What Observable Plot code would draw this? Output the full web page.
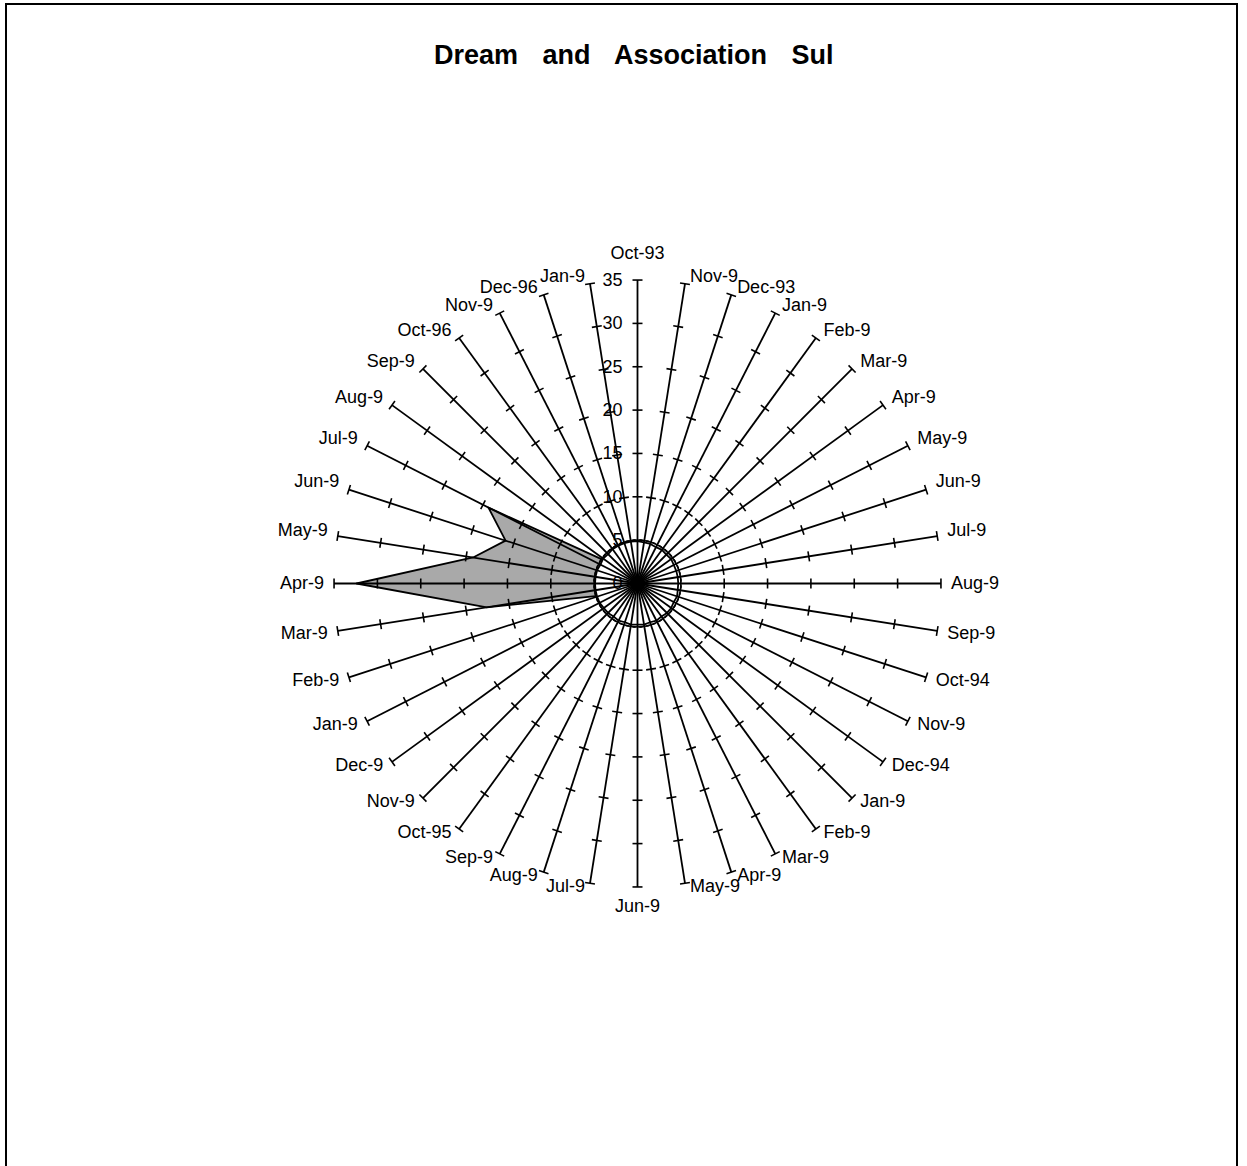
<!DOCTYPE html>
<html>
<head>
<meta charset="utf-8">
<script src="https://cdn.jsdelivr.net/npm/d3@7"></script>
<script src="https://cdn.jsdelivr.net/npm/@observablehq/plot@0.6"></script>
<style>
  html, body { margin: 0; padding: 0; background: #fff; overflow: hidden; }
  #wrap { position: relative; width: 1247px; height: 1166px; }
  #frame { position: absolute; left: 5px; top: 3px; width: 1229px; height: 1200px;
           border: 2px solid #000; pointer-events: none; }
  #title { position: absolute; left: 434px; top: 42px; font: bold 27px "Liberation Sans", Arial, sans-serif;
           line-height: 1; word-spacing: 17px; white-space: pre; color: #000; }
  #chart { position: absolute; left: 0; top: 0; }
</style>
</head>
<body>
<div id="wrap">
  <div id="chart"></div>
  <div id="title">Dream and Association Sul</div>
  <div id="frame"></div>
</div>
<script>
// ---- data ----
const months = [
  "Oct-93","Nov-9","Dec-93","Jan-9","Feb-9","Mar-9","Apr-9","May-9","Jun-9","Jul-9",
  "Aug-9","Sep-9","Oct-94","Nov-9","Dec-94","Jan-9","Feb-9","Mar-9","Apr-9","May-9",
  "Jun-9","Jul-9","Aug-9","Sep-9","Oct-95","Nov-9","Dec-9","Jan-9","Feb-9","Mar-9",
  "Apr-9","May-9","Jun-9","Jul-9","Aug-9","Sep-9","Oct-96","Nov-9","Dec-96","Jan-9"
];
// grey filled series
const seriesGrey = [
  3,3,3,3,3,3,3,3,3,3,
  3,3,3,3,3,3,3,3,3,3,
  3,3,3,3,3,3,3,3,4.5,17.6,
  32.4,19.2,16,19.3,4.2,3,3,3,3,3
];
// white filled series (small inner ring)
const seriesWhite = [
  4.9,4.8,4.8,4.7,4.8,4.7,4.8,4.7,4.7,4.7,
  4.7,4.7,4.8,4.7,4.8,4.8,4.7,4.8,4.7,4.8,
  4.75,4.8,4.7,4.8,4.7,4.8,4.8,4.9,4.9,4.9,
  4.9,4.9,4.9,4.8,4.9,4.8,4.9,4.9,4.9,4.9
];
const tickValues = [0,5,10,15,20,25,30,35];
const axisMax = 35;

// ---- layout ----
const W = 1247, H = 1166;
const cx = 637, cy = 583;     // centre in pixels
const k = 8.67;               // pixels per unit
const n = months.length;
const ang = i => i * 2 * Math.PI / n;

const pts = arr => arr.map((v, i) => ({x: v * Math.sin(ang(i)), y: v * Math.cos(ang(i))}));
const spokes = months.map((m, i) => ({x1: 0, y1: 0, x2: axisMax * Math.sin(ang(i)), y2: axisMax * Math.cos(ang(i))}));
const half = 5 / k;
const ticks = [];
months.forEach((m, i) => {
  const s = Math.sin(ang(i)), c = Math.cos(ang(i));
  tickValues.filter(v => v > 0).forEach(v => {
    ticks.push({x1: v*s + half*c, y1: v*c - half*s, x2: v*s - half*c, y2: v*c + half*s});
  });
});
const labels = months.map((m, i) => {
  const s = Math.sin(ang(i)), c = Math.cos(ang(i));
  let anchor, dx, dy;
  if (Math.abs(s) < 0.01) { anchor = "middle"; dx = 0; dy = c > 0 ? -27 : 19; }
  else {
    anchor = s > 0 ? "start" : "end";
    dx = Math.sign(s) * (4 + 6 * Math.abs(s));
    dy = c > 0 ? -Math.min(8, 35 * c) : Math.min(3, -15 * c);
  }
  return {label: m, anchor, x: axisMax * s + dx / k, y: axisMax * c - dy / k};
});
const valLabels = tickValues.map(v => ({label: String(v), x: -15 / k, y: v}));

const font = "Liberation Sans, Arial, sans-serif";
const chart = Plot.plot({
  width: W, height: H, margin: 0,
  style: {background: "#fff", fontFamily: font},
  x: {domain: [-cx / k, (W - cx) / k], axis: null},
  y: {domain: [-(H - cy) / k, cy / k], axis: null},
  marks: [
    Plot.line(pts(seriesGrey), {x: "x", y: "y", curve: "linear-closed", fill: "#a9a9a9", stroke: "#000", strokeWidth: 1.8}),
    Plot.line(pts(seriesWhite), {x: "x", y: "y", curve: "linear-closed", fill: "#fff", stroke: "#000", strokeWidth: 1.8}),
    Plot.text(valLabels, {x: "x", y: "y", text: "label", textAnchor: "end", fontSize: 18, fill: "#000"}),
    Plot.link(spokes, {x1: "x1", y1: "y1", x2: "x2", y2: "y2", stroke: "#000", strokeWidth: 1.8}),
    Plot.link(ticks, {x1: "x1", y1: "y1", x2: "x2", y2: "y2", stroke: "#000", strokeWidth: 1.6}),
    Plot.text(labels.filter(d => d.anchor === "start"), {x: "x", y: "y", text: "label", textAnchor: "start", fontSize: 18, fill: "#000"}),
    Plot.text(labels.filter(d => d.anchor === "end"), {x: "x", y: "y", text: "label", textAnchor: "end", fontSize: 18, fill: "#000"}),
    Plot.text(labels.filter(d => d.anchor === "middle"), {x: "x", y: "y", text: "label", textAnchor: "middle", fontSize: 18, fill: "#000"})
  ]
});
document.getElementById("chart").appendChild(chart);
</script>
</body>
</html>
